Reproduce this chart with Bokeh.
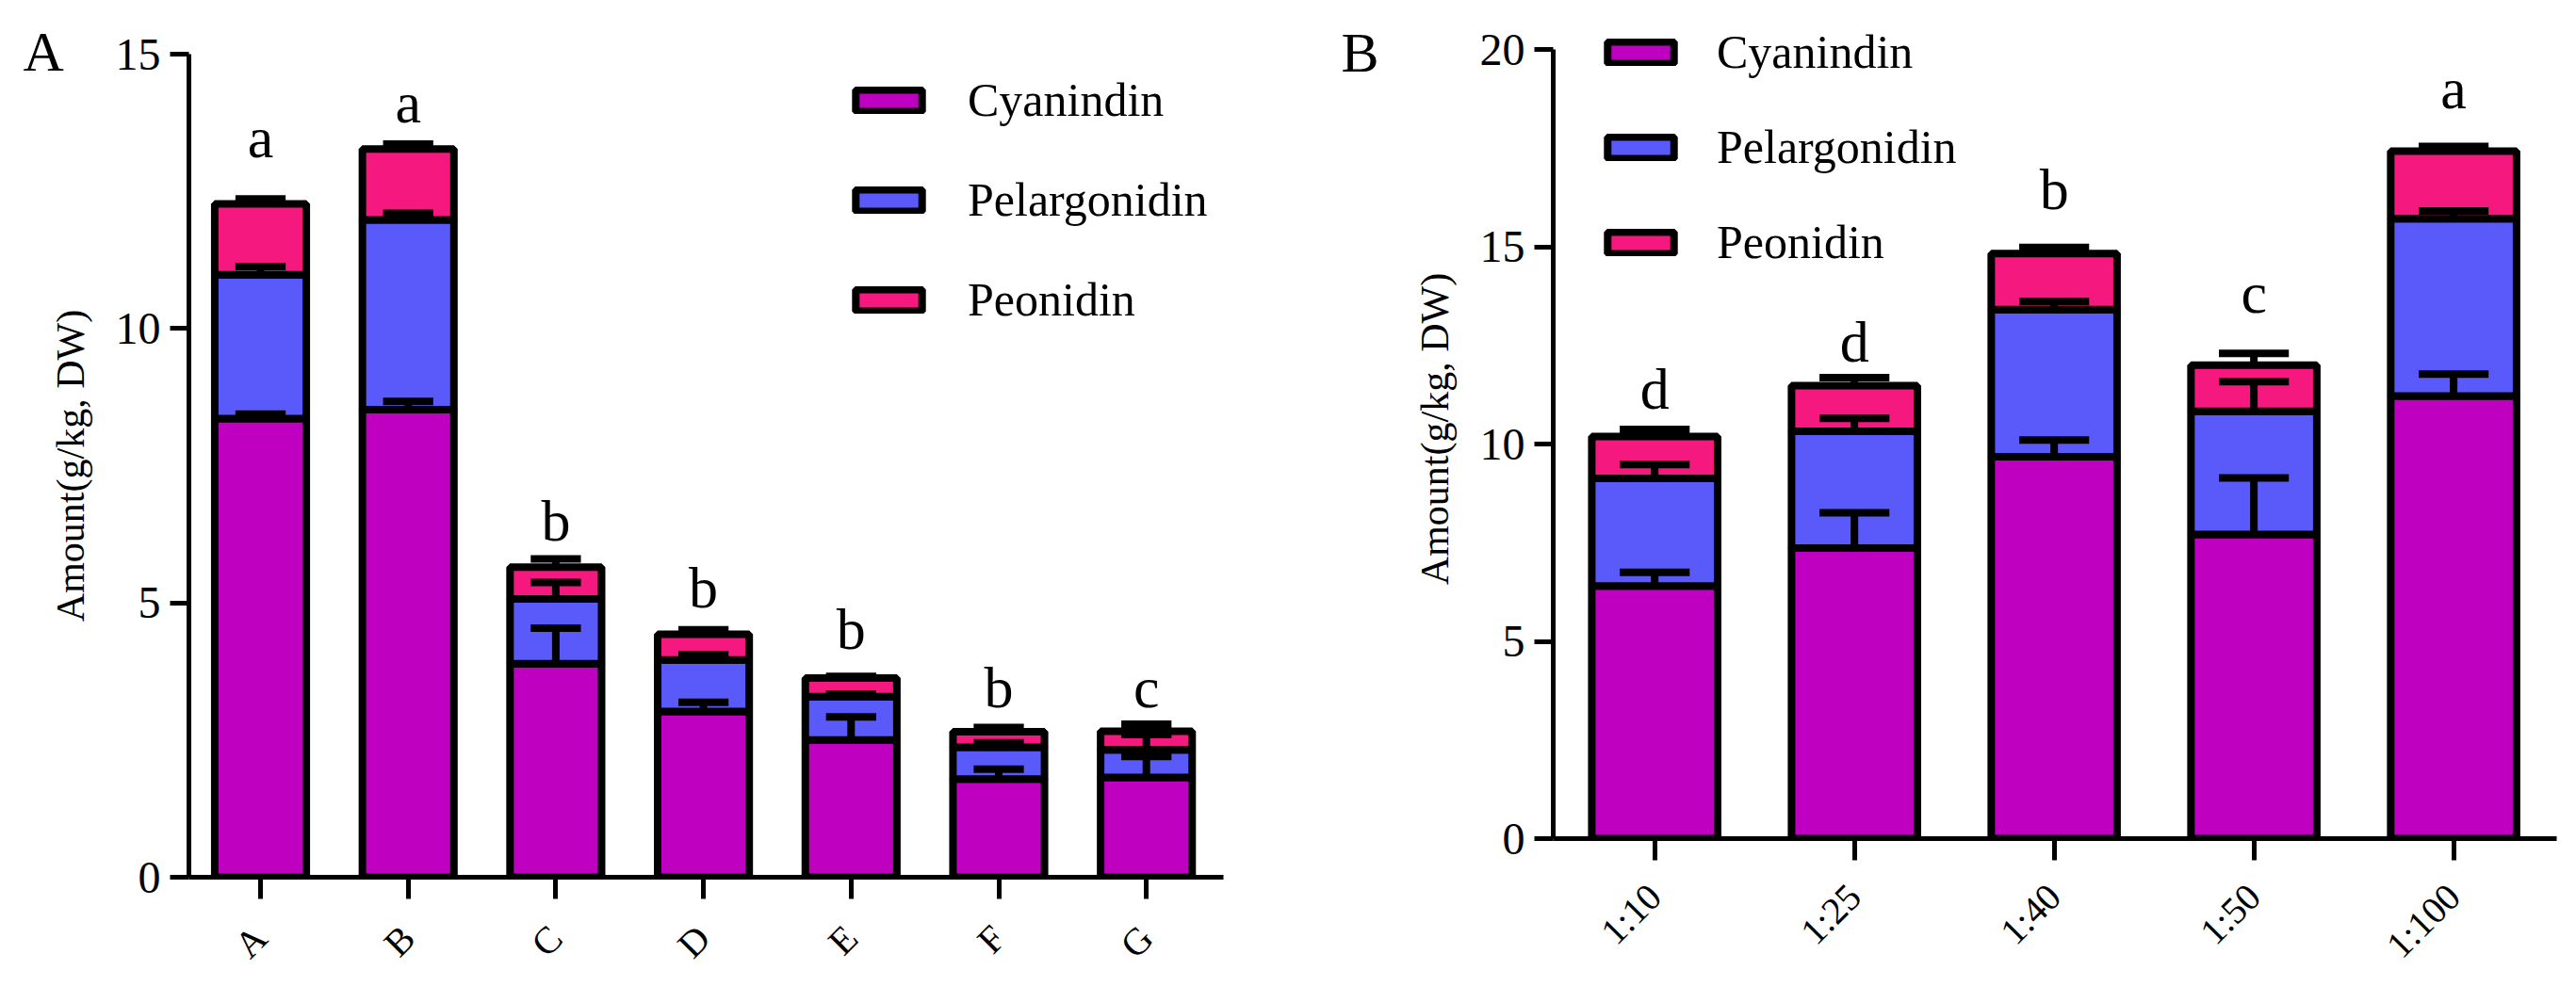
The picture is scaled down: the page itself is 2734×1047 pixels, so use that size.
import math
from bokeh.plotting import figure
from bokeh.models import Range1d, FixedTicker, Legend, LegendItem
from bokeh.embed import file_html
from bokeh.resources import INLINE
from bokeh.core.properties import value

FONT = "Liberation Serif"
SERIES = ["Cyanindin", "Pelargonidin", "Peonidin"]
COLORS = ["#C000C0", "#5A5AFA", "#F5187F"]

# ---------------- Panel A data ----------------
cats_a = ["A", "B", "C", "D", "E", "F", "G"]
cyan_a = [8.36, 8.52, 3.89, 3.02, 2.50, 1.79, 1.82]
pel_a = [2.62, 3.46, 1.18, 0.94, 0.79, 0.58, 0.50]
peo_a = [1.29, 1.29, 0.58, 0.47, 0.34, 0.28, 0.34]
cyan_err_a = [0.08, 0.15, 0.65, 0.17, 0.42, 0.18, 0.38]
pel_err_a = [0.15, 0.12, 0.30, 0.10, 0.05, 0.08, 0.28]
peo_err_a = [0.09, 0.09, 0.15, 0.08, 0.03, 0.08, 0.13]
sig_a = ["a", "a", "b", "b", "b", "b", "c"]
sig_y_a = [13.14, 13.77, 6.16, 4.93, 4.18, 3.12, 3.12]
yticks_a = [0, 5, 10, 15]

# ---------------- Panel B data ----------------
cats_b = ["1:10", "1:25", "1:40", "1:50", "1:100"]
cyan_b = [6.40, 7.36, 9.68, 7.71, 11.22]
pel_b = [2.73, 2.96, 3.73, 3.12, 4.49]
peo_b = [1.06, 1.16, 1.42, 1.17, 1.71]
cyan_err_b = [0.35, 0.90, 0.42, 1.43, 0.55]
pel_err_b = [0.35, 0.33, 0.20, 0.75, 0.20]
peo_err_b = [0.18, 0.20, 0.15, 0.30, 0.12]
sig_b = ["d", "d", "b", "c", "a"]
sig_y_b = [10.92, 12.11, 15.98, 13.35, 18.53]
yticks_b = [0, 5, 10, 15, 20]

YLABEL = "Amount(g/kg, DW)"
HEIGHT = 1045


def make_panel(cats, stacks, errs, sig, sig_y, yticks, *, width, x_range, y_range, y_bounds,
               borders, bar_w, cap_hw, xlabel_standoff, legend_loc, legend_standoff,
               legend_spacing, letter, letter_offset, letter_standoff):
    p = figure(width=width, height=HEIGHT, x_range=Range1d(*x_range), y_range=Range1d(*y_range),
               output_backend="svg", toolbar_location=None,
               min_border_left=borders[0], min_border_right=borders[1],
               min_border_top=borders[2], min_border_bottom=borders[3],
               styles={"float": "left"})
    p.outline_line_color = None
    p.xgrid.visible = False
    p.ygrid.visible = False
    p.background_fill_color = "white"
    p.border_fill_color = "white"

    # panel letter as the figure title
    p.title.text = letter
    p.title.text_font = FONT
    p.title.text_font_size = "60px"
    p.title.text_font_style = "normal"
    p.title.text_color = "black"
    p.title.align = "left"
    p.title.vertical_align = "bottom"
    p.title.offset = letter_offset
    p.title.standoff = letter_standoff

    xs = list(range(len(cats)))
    bottoms = [0.0] * len(cats)
    renderers = []
    tops_all = []
    for vals, col in zip(stacks, COLORS):
        tops = [b + v for b, v in zip(bottoms, vals)]
        r = p.vbar(x=xs, width=bar_w, bottom=bottoms, top=tops, fill_color=col,
                   line_color="black", line_width=8)
        renderers.append(r)
        tops_all.append(tops)
        bottoms = tops

    # error bars (upward only), drawn over all segments
    for tops, err in zip(tops_all, errs):
        ends = [t + e for t, e in zip(tops, err)]
        p.segment(x0=xs, y0=tops, x1=xs, y1=ends, line_color="black", line_width=8)
        p.segment(x0=[x - cap_hw for x in xs], y0=ends, x1=[x + cap_hw for x in xs], y1=ends,
                  line_color="black", line_width=8)

    p.text(x=xs, y=sig_y, text=sig, text_align="center", text_baseline="alphabetic",
           y_offset=-20, text_font=value(FONT), text_font_size="62px", text_color="black")

    # axes
    for ax in (p.xaxis[0], p.yaxis[0]):
        ax.axis_line_width = 5
        ax.axis_line_color = "black"
        ax.major_tick_line_width = 5
        ax.major_tick_line_color = "black"
        ax.major_tick_in = 0
        ax.minor_tick_line_color = None
        ax.major_label_text_font = FONT
        ax.major_label_text_color = "black"
    p.xaxis.ticker = FixedTicker(ticks=xs)
    p.xaxis.major_label_overrides = {i: c for i, c in enumerate(cats)}
    p.xaxis.major_label_orientation = math.pi / 4
    p.xaxis.major_label_text_font_size = "40px"
    p.xaxis.major_tick_out = 23
    p.xaxis.major_label_standoff = xlabel_standoff

    p.yaxis.ticker = FixedTicker(ticks=yticks)
    p.yaxis.bounds = y_bounds
    p.yaxis.major_tick_out = 20
    p.yaxis.major_label_text_font_size = "48px"
    p.yaxis.major_label_standoff = 10
    p.yaxis.axis_label = YLABEL
    p.yaxis.axis_label_text_font = FONT
    p.yaxis.axis_label_text_font_style = "normal"
    p.yaxis.axis_label_text_font_size = "42px"
    p.yaxis.axis_label_text_color = "black"
    p.yaxis.axis_label_standoff = 22

    legend = Legend(items=[LegendItem(label=s, renderers=[r]) for s, r in zip(SERIES, renderers)],
                    location=legend_loc, orientation="vertical",
                    glyph_width=88, glyph_height=29, label_standoff=legend_standoff,
                    label_height=60, spacing=legend_spacing, padding=0, margin=0,
                    border_line_color=None, background_fill_alpha=0,
                    label_text_font=FONT, label_text_font_size="50px",
                    label_text_color="black")
    p.add_layout(legend)
    return p


pA = make_panel(cats_a, [cyan_a, pel_a, peo_a], [cyan_err_a, pel_err_a, peo_err_a],
                sig_a, sig_y_a, yticks_a, width=1380, x_range=(-0.485, 6.522), y_range=(0, 15),
                y_bounds=(0, 15), borders=(200, 82, 57, HEIGHT - 931), bar_w=0.62, cap_hw=0.17,
                xlabel_standoff=35, legend_loc=(699, 583), legend_standoff=40,
                legend_spacing=46, letter="A", letter_offset=-176, letter_standoff=-60)

pB = make_panel(cats_b, [cyan_b, pel_b, peo_b], [cyan_err_b, pel_err_b, peo_err_b],
                sig_b, sig_y_b, yticks_b, width=1352, x_range=(-0.508, 4.516),
                y_range=(0, 20.764), y_bounds=(0, 20), borders=(268, 19, 20, HEIGHT - 890),
                bar_w=0.63, cap_hw=0.175, xlabel_standoff=32, legend_loc=(49, 603),
                legend_standoff=37, legend_spacing=41, letter="B", letter_offset=-225,
                letter_standoff=-136)

open("out.html", "w").write(file_html([pA, pB], INLINE))
